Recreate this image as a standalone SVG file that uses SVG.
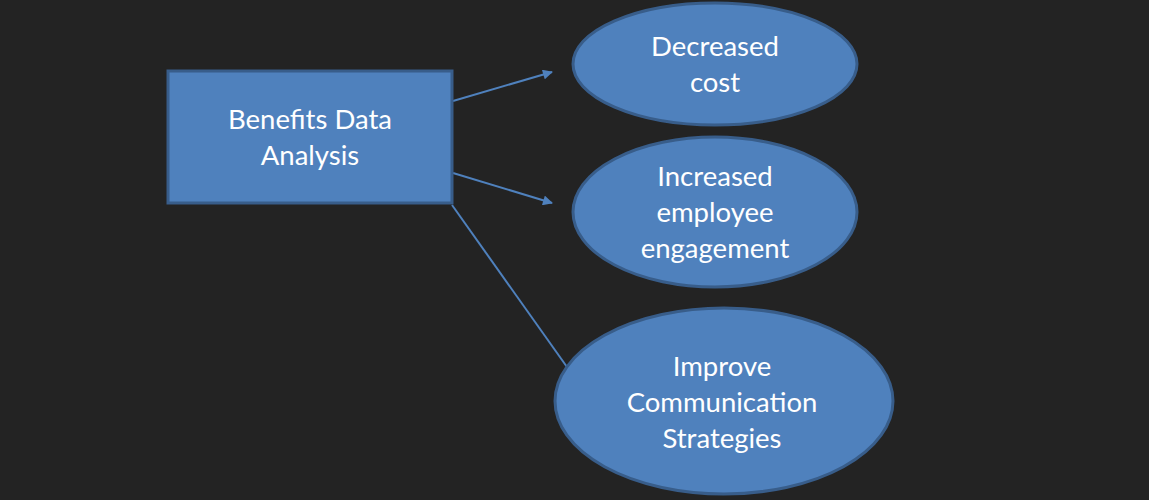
<svg xmlns="http://www.w3.org/2000/svg" width="1149" height="500" viewBox="0 0 1149 500">
<defs>
<marker id="arr" viewBox="0 0 10 10" refX="9" refY="5" markerWidth="5.5" markerHeight="5" orient="auto" markerUnits="strokeWidth">
<path d="M0,0 L10,5 L0,10 z" fill="#4f81bd"/>
</marker>
</defs>
<style>
.shape{fill:#4f81bd;stroke:#385d8a;stroke-width:3}
.lbl{font-family:Lato,"Open Sans","Liberation Sans",sans-serif;font-size:27.5px;fill:#ffffff;text-anchor:middle}
.conn{stroke:#4f81bd;stroke-width:2;fill:none}
</style>
<rect width="1149" height="500" fill="#232323"/>
<g id="connectors">
<line class="conn" x1="453" y1="101" x2="552" y2="72" marker-end="url(#arr)"/>
<line class="conn" x1="453" y1="173" x2="552" y2="203" marker-end="url(#arr)"/>
<line class="conn" x1="452" y1="205" x2="567" y2="367"/>
</g>
<g id="benefits">
<rect class="shape" x="168" y="71" width="284" height="132"/>
<text class="lbl" x="310" y="129">Benefits Data</text>
<text class="lbl" x="310" y="165">Analysis</text>
</g>
<g id="decreased">
<ellipse class="shape" cx="715" cy="64" rx="142" ry="61"/>
<text class="lbl" x="715" y="56">Decreased</text>
<text class="lbl" x="715" y="92">cost</text>
</g>
<g id="increased">
<ellipse class="shape" cx="715" cy="212" rx="142" ry="75"/>
<text class="lbl" x="715" y="186">Increased</text>
<text class="lbl" x="715" y="222">employee</text>
<text class="lbl" x="715" y="258">engagement</text>
</g>
<g id="improve">
<ellipse class="shape" cx="724" cy="401" rx="169" ry="93"/>
<text class="lbl" x="722" y="376">Improve</text>
<text class="lbl" x="722" y="412">Communication</text>
<text class="lbl" x="722" y="448">Strategies</text>
</g>
</svg>
